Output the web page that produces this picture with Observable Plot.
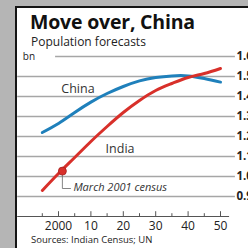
<!DOCTYPE html>
<html><head><meta charset="utf-8">
<script src="https://cdn.jsdelivr.net/npm/d3@7"></script>
<script src="https://cdn.jsdelivr.net/npm/@observablehq/plot@0.6"></script>
<style>
html,body{margin:0;padding:0;background:#b5b5b5;}
#wrap{position:relative;width:248px;height:248px;overflow:hidden;background:#b5b5b5;font-family:"Open Sans",sans-serif;}
#panel{position:absolute;left:15px;top:6px;width:240px;height:250px;background:#fff;border-left:2px solid #151515;border-top:2px solid #151515;}
#chart{position:absolute;left:0;top:0;}
#title{position:absolute;left:30px;top:12px;font-size:19.5px;line-height:20px;font-weight:700;color:#111;letter-spacing:-0.2px;white-space:nowrap;z-index:3;}
#sub{position:absolute;left:31px;top:35px;font-size:12px;line-height:13px;color:#222;white-space:nowrap;z-index:3;}
#src{position:absolute;left:31px;top:234px;font-size:9.5px;line-height:11px;color:#222;white-space:nowrap;z-index:3;}
</style></head>
<body><div id="wrap"><div id="panel"><div id="chart"></div></div>
<div id="title">Move over, China</div>
<div id="sub">Population forecasts</div>
<div id="src">Sources: Indian Census; UN</div>
</div>
<script>
const years = [1995,2000,2005,2010,2015,2020,2025,2030,2035,2040,2045,2050];
const china = [1.22,1.265,1.32,1.372,1.415,1.45,1.478,1.495,1.503,1.503,1.49,1.472];
const india = [0.93,1.015,1.095,1.175,1.25,1.32,1.38,1.43,1.465,1.495,1.515,1.54];
const census = [{year:2001.2, value:1.027}];
const yTicks = [0.9,1.0,1.1,1.2,1.3,1.4,1.5,1.6];
const yTickLabels = ["0.9","1.0","1.1","1.2","1.3","1.4","1.5","1.6"];
const xMajor = [2000,2010,2020,2030,2040,2050];
const xMajorLabels = ["2000","10","20","30","40","50"];
const xMinor = [1995,2005,2015,2025,2035,2045];
const seriesLabels = [
  {text:"China", year:2006, value:1.44},
  {text:"India", year:2019, value:1.14}
];
const noteLabel = [{text:"March 2001 census", year:2004.6, value:0.945}];

const BLUE="#1f80bb", RED="#d8302a", GRID="#a6a6a6", INK="#222";
const rows = years.flatMap((y,i)=>[{year:y,value:china[i],s:"China"},{year:y,value:india[i],s:"India"}]);
const gridLeft=1987.4, gridRight=2054.6, axisBase=0.8, axisRight=2052.8, labelX=2054.9;
const gridRows = yTicks.map(v=>({v, a: v>1.55 ? 1999.1 : gridLeft, b: gridRight}));
const axisRow = [{v:axisBase, a:gridLeft, b:axisRight}];
const tickRows = xMajor.map(x=>({x, y1:axisBase, y2:axisBase+0.024}))
  .concat(xMinor.map(x=>({x, y1:axisBase, y2:axisBase+0.014})));
const leader = [{x:2001.2,y:1.027},{x:2001.2,y:0.94},{x:2003.7,y:0.94}];

const chart = Plot.plot({
  width:231, height:240,
  margin:0,
  style:{background:"white", overflow:"visible"},
  x:{domain:[2000,2050], range:[41,203], axis:null},
  y:{domain:[0.9,1.6], range:[188,48], axis:null},
  marks:[
    Plot.ruleY(gridRows, {y:"v", x1:"a", x2:"b", stroke:GRID, strokeWidth:1.7}),
    Plot.text(yTicks.map((v,i)=>({v,t:yTickLabels[i],x:labelX})), {x:"x", y:"v", text:"t", textAnchor:"start", fontSize:11.5, fontWeight:700, fill:INK, fontFamily:"Open Sans"}),
    Plot.text([{t:"bn", x:gridLeft+1.6, v:1.6}], {x:"x", y:"v", text:"t", textAnchor:"start", fontSize:10, fill:INK, fontFamily:"Open Sans"}),
    Plot.ruleY(axisRow, {y:"v", x1:"a", x2:"b", stroke:"#555", strokeWidth:1.2}),
    Plot.ruleX(tickRows, {x:"x", y1:"y1", y2:"y2", stroke:"#555", strokeWidth:1}),
    Plot.text(xMajor.map((x,i)=>({x, t:xMajorLabels[i], v:axisBase-0.05})), {x:"x", y:"v", text:"t", fontSize:12, fill:INK, fontFamily:"Open Sans"}),
    Plot.line(rows, {x:"year", y:"value", z:"s", stroke:d=>d.s==="China"?BLUE:RED, strokeWidth:3, curve:"natural"}),
    Plot.line(leader, {x:"x", y:"y", stroke:"#666", strokeWidth:0.8}),
    Plot.dot(census, {x:"year", y:"value", r:4, fill:RED, stroke:"#a52020", strokeWidth:0.8}),
    Plot.text(seriesLabels, {x:"year", y:"value", text:"text", fontSize:12.5, fill:"#333", fontFamily:"Open Sans"}),
    Plot.text(noteLabel, {x:"year", y:"value", text:"text", textAnchor:"start", fontSize:11, fontStyle:"italic", fill:"#333", fontFamily:"Open Sans"})
  ]
});
document.getElementById("chart").append(chart);
</script></body></html>
